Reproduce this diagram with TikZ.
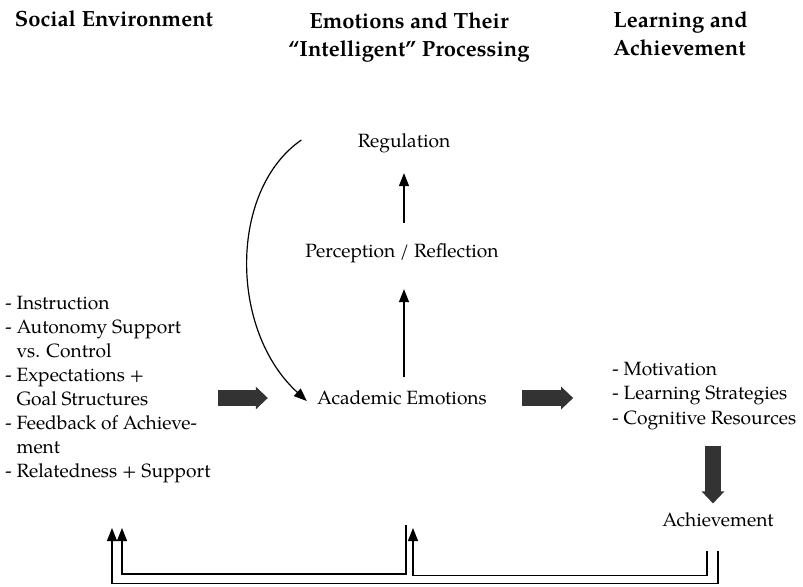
\documentclass[tikz,border=0pt]{standalone}
\usepackage{fontspec}
\setmainfont{TeX Gyre Pagella}
\usetikzlibrary{arrows.meta}
\usetikzlibrary{positioning}
\usetikzlibrary{calc}

\begin{document}
\begin{tikzpicture}[x=0.5pt,y=-0.5pt,>={Triangle[length=6.5pt,width=5pt]},
    head node/.style={font=\bfseries\fontsize{11}{14}\selectfont,inner sep=0pt},
    main node/.style={font=\fontsize{9.6}{12}\selectfont,inner sep=2pt},
    list node/.style={main node,align=left,anchor=west},
    thin line/.style={line width=0.6pt},
    fat arrow/.style={line width=8pt,color=black!80,-{Triangle[length=6pt,width=11pt]}}]
  \useasboundingbox (0,0) rectangle (803,586);
  % column headers
  \node[head node] (hsoc) at (114,19) {Social Environment};
  \node[head node,align=center] (hemo) at (409,37) {Emotions and Their\\“Intelligent” Processing};
  \node[head node,align=left,anchor=west] (hach) at (613,34) {Learning and\\Achievement};

  \node[main node] (reg) at (404,143) {Regulation};
  \node[main node] (per) at (402,253) {Perception / Reflection};
  \node[main node] (emo) at (402,398) {Academic Emotions};
  \node[list node] (soc) at (1,390) {- Instruction\\- Autonomy Support\\\phantom{- }vs. Control\\- Expectations +\\\phantom{- }Goal Structures\\- Feedback of Achieve-\\\phantom{- }ment\\- Relatedness + Support};
  \node[list node,font=\fontsize{9.6}{12.3}\selectfont] (lrn) at (608,396) {- Motivation\\- Learning Strategies\\- Cognitive Resources};
  \node[main node] (ach) at (718,520) {Achievement};

  % free ends
  \coordinate (loop) at ($(reg.west)+(-52,-3)$);
  \coordinate (emoout) at (406,525);
  \coordinate (fbA) at (112,528);
  \coordinate (fbB) at (122,528);
  \coordinate (fbC) at (413,528);

  \path[->,thin line,shorten <=8pt,shorten >=8pt] (per.north -| reg.south) edge (reg.south);
  \path[->,thin line,shorten <=4.5pt,shorten >=11pt] (emo.north -| reg.south) edge (per.south -| reg.south);
  \draw[->,thin line] (loop) .. controls (229,190) and (229,330) .. ($(emo.west)+(-6,3)$);

  \draw[fat arrow] ($(emo.west)+(-95,0)$) -- ($(emo.west)+(-45,0)$);
  \draw[fat arrow] ($(emo.east)+(31,0)$) -- ($(emo.east)+(82,0)$);
  \draw[fat arrow] ($(ach.north)+(-5,-62)$) -- ($(ach.north)+(-5,-5)$);

  % feedback loops
  \draw[->,thin line] ($(ach.south)+(0,19)$) -- ++(0,33) -| (fbA);
  \draw[->,thin line] ($(ach.south)+(-11,19)$) -- ++(0,25) -| (fbC);
  \draw[->,thin line] (emoout) -- ++(0,49) -| (fbB);
\end{tikzpicture}
\end{document}
